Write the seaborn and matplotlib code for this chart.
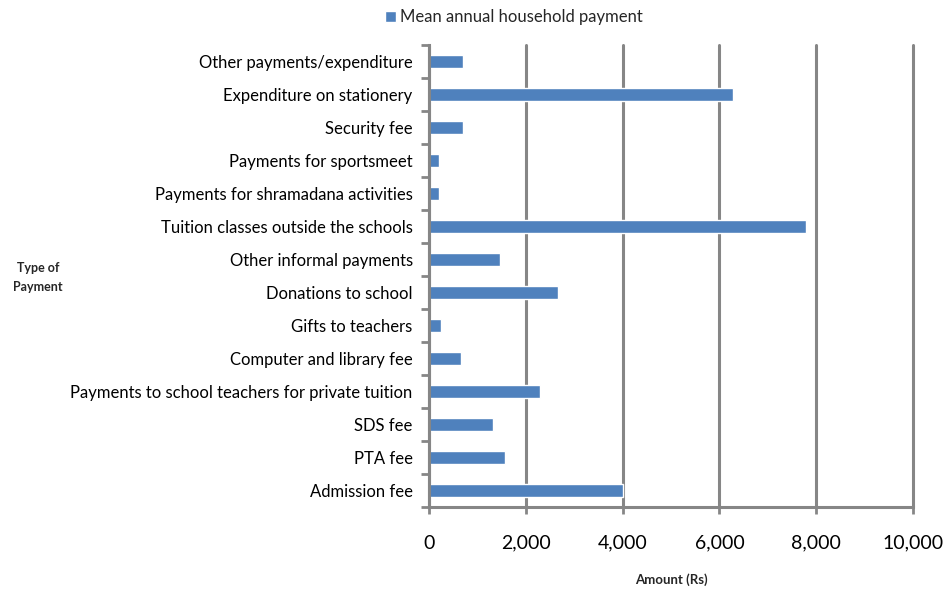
import matplotlib
matplotlib.use("Agg")
import matplotlib.pyplot as plt
import seaborn as sns
import pandas as pd
from matplotlib.ticker import FixedLocator, FuncFormatter

# Payment categories, listed top to bottom
categories = [
    "Other payments/expenditure",
    "Expenditure on stationery",
    "Security fee",
    "Payments for sportsmeet",
    "Payments for shramadana activities",
    "Tuition classes outside the schools",
    "Other informal payments",
    "Donations to school",
    "Gifts to teachers",
    "Computer and library fee",
    "Payments to school teachers for private tuition",
    "SDS fee",
    "PTA fee",
    "Admission fee",
]
# Mean annual household payment (Rs)
amounts = [700, 6280, 700, 210, 210, 7780, 1460, 2670, 250, 660, 2290, 1320, 1570, 4000]
x_ticks = [0, 2000, 4000, 6000, 8000, 10000]

series_name = "Mean annual household payment"
df = pd.DataFrame({"Type": categories, "Amount": amounts})

sns.set_theme(style="white")
plt.rcParams["font.family"] = ["Lato", "DejaVu Sans"]

grey = "#868686"
blue = "#4F81BD"

fig = plt.figure(figsize=(9.5, 5.92), dpi=100)
ax = fig.add_axes([0.4519, 0.144, 0.961 - 0.4519, 0.924 - 0.144])

sns.barplot(data=df, x="Amount", y="Type", order=categories, orient="h",
            color=blue, width=0.4, saturation=1, label=series_name, ax=ax)

ax.set_xlim(0, 10000)
ax.set_ylim(len(categories) - 0.5, -0.5)

# vertical gridlines
ax.set_axisbelow(True)
ax.xaxis.set_major_locator(FixedLocator(x_ticks))
ax.xaxis.set_major_formatter(FuncFormatter(lambda v, p: f"{int(v):,}"))
ax.grid(axis="x", color=grey, linewidth=2.2)
ax.grid(axis="y", visible=False)
for gl in ax.get_xgridlines():
    gl.set_clip_on(False)

for side in ["top", "right"]:
    ax.spines[side].set_visible(False)
for side in ["left", "bottom"]:
    ax.spines[side].set_color(grey)
    ax.spines[side].set_linewidth(2.2)

ax.tick_params(axis="x", direction="out", length=5, width=2, color=grey,
               labelsize=14, pad=15, labelcolor="black", bottom=True)
# category labels centred on bars; small tick marks at slot boundaries
ax.tick_params(axis="y", which="major", length=0, pad=12, labelsize=12,
               labelcolor="black")
ax.yaxis.set_minor_locator(FixedLocator([i - 0.5 for i in range(len(categories) + 1)]))
ax.tick_params(axis="y", which="minor", direction="out", length=6, width=2,
               color=grey, left=True)

ax.set_ylabel("")
ax.set_xlabel("Amount (Rs)", fontsize=9.5, fontweight="bold", labelpad=16)

fig.text(38 / 950, 1 - 277 / 592, "Type of\nPayment", fontsize=9,
         fontweight="bold", ha="center", va="center", linespacing=1.7)

if ax.legend_:
    ax.legend_.remove()
handles, labels = ax.get_legend_handles_labels()
fig.legend(handles, labels, loc="center", bbox_to_anchor=(514 / 950, 1 - 17 / 592),
           frameon=False, fontsize=12, handlelength=0.65, handleheight=0.65,
           handletextpad=0.25, borderpad=0)

fig.savefig("out.png", dpi=100, facecolor="white")
